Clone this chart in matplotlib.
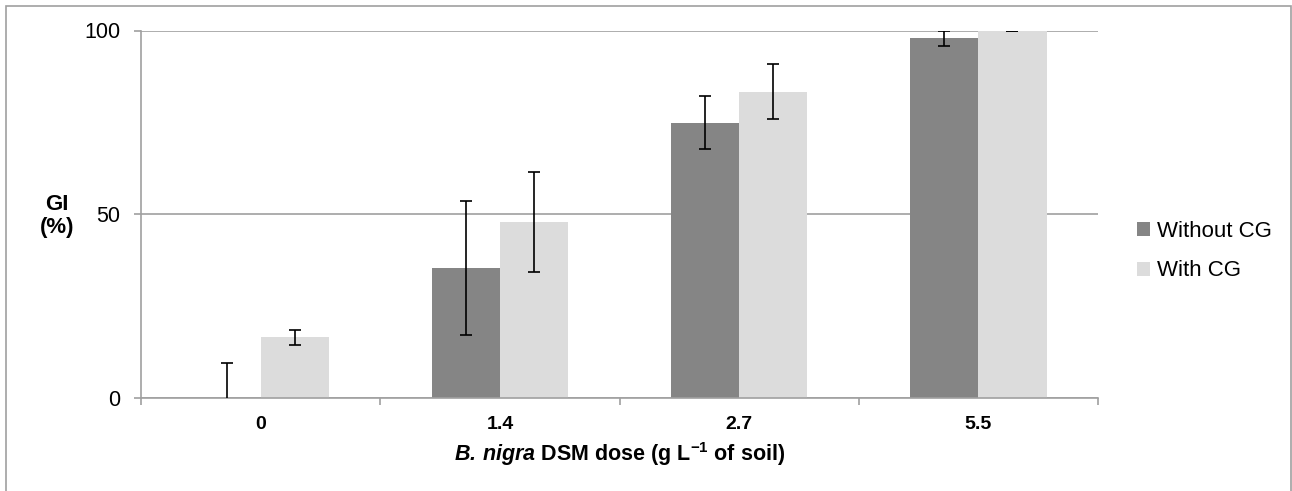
import matplotlib
matplotlib.use("Agg")
import matplotlib.pyplot as plt
from matplotlib.patches import Rectangle
import numpy as np

plt.rcParams["font.family"] = ["Liberation Sans", "DejaVu Sans"]
plt.rcParams["mathtext.fontset"] = "custom"
plt.rcParams["mathtext.rm"] = "Liberation Sans"
plt.rcParams["mathtext.bf"] = "Liberation Sans:bold"
plt.rcParams["mathtext.it"] = "Liberation Sans:italic"
plt.rcParams["mathtext.bfit"] = "Liberation Sans:italic:bold"

# GI (%) per B. nigra DSM dose, with and without CG
doses = ["0", "1.4", "2.7", "5.5"]
without_cg = [0.0, 35.3, 74.9, 97.9]
without_cg_err = [9.5, 18.2, 7.2, 2.1]
with_cg = [16.5, 47.9, 83.3, 100.0]
with_cg_err = [2.1, 13.7, 7.5, 0.0]

DARK = "#858585"
LIGHT = "#dcdcdc"
GRID = "#a0a0a0"

fig = plt.figure(figsize=(12.92, 4.91), dpi=100)
ax = fig.add_axes([141 / 1292, 1 - 398 / 491, (1098 - 141) / 1292, (398 - 30.5) / 491])

x = np.arange(len(doses))
w = 0.285
ekw = dict(ecolor="black", elinewidth=1.2, capsize=4.5, capthick=1.2)
ax.bar(x - w / 2, without_cg, w, color=DARK, label="Without CG", zorder=2)
ax.bar(x + w / 2, with_cg, w, color=LIGHT, label="With CG", zorder=2)
ax.errorbar(x - w / 2, without_cg, yerr=without_cg_err, fmt="none", zorder=3, **ekw)
ax.errorbar(x + w / 2, with_cg, yerr=with_cg_err, fmt="none", zorder=3, **ekw)

ax.set_xlim(-0.5, len(doses) - 0.5)
ax.set_ylim(0, 100)
ax.set_yticks([0, 50, 100])
ax.yaxis.grid(True, color=GRID, lw=1.2, zorder=0)
ax.set_axisbelow(True)

for s in ("top", "right"):
    ax.spines[s].set_visible(False)
for s in ("left", "bottom"):
    ax.spines[s].set_color(GRID)
    ax.spines[s].set_linewidth(1.2)

ax.set_xticks(x)
ax.set_xticklabels(doses, fontsize=14, fontweight="bold")
ax.tick_params(axis="x", length=0, pad=13)
ax.set_xticks(np.arange(len(doses) + 1) - 0.5, minor=True)
ax.tick_params(axis="x", which="minor", length=5, width=1.2, color=GRID, direction="out")
ax.tick_params(axis="y", length=5, width=1.2, color=GRID, labelsize=15.5, pad=10)

ax.set_xlabel(r"$\mathbfit{B.\!\ nigra}$ DSM dose (g L$^{\mathbf{-1}}$ of soil)",
              fontsize=15.5, fontweight="bold", labelpad=5)
fig.text(57 / 1292, 1 - 216 / 491, "GI\n(%)", fontsize=16, fontweight="bold",
         ha="center", va="center", linespacing=1.1)

ax.legend(loc="center left", bbox_to_anchor=(1.02, 0.4), frameon=False,
          fontsize=16, handlelength=0.6, handleheight=0.6, handletextpad=0.3,
          labelspacing=0.85)

fig.patches.append(Rectangle((6 / 1292, -0.1), (1291 - 6) / 1292, 1.1 - 6 / 491,
                             transform=fig.transFigure, fill=False,
                             edgecolor="#a0a0a0", lw=1.2))

fig.savefig("out.png", dpi=100)
